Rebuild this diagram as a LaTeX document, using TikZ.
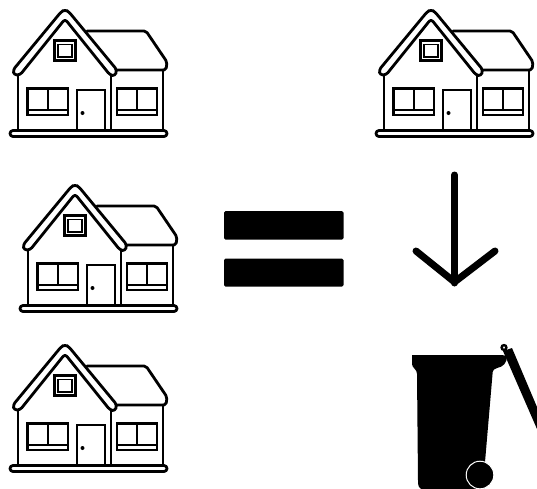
\documentclass[tikz,border=0pt]{standalone}
\tikzset{
  ln/.style={draw=black,line width=2.8pt,line join=round,line cap=round},
  thick ln/.style={draw=black,line width=3.2pt,line join=round,line cap=round},
  house/.pic={
    % right wing roof
    \draw[ln,rounded corners=2pt] (87,31) -- (146,31) -- (167,62) -- (166,70) -- (116,70);
    % walls
    \draw[ln] (18,75) -- (18,130);
    \draw[ln] (111,74) -- (111,130);
    \draw[ln] (163,70) -- (163,130);
    % main roof band
    \draw[ln,rounded corners=3pt,fill=white] (13,70) -- (61,12) -- (65,9.5) -- (69,12) -- (117,70) -- (115,76) -- (110,75) -- (65,19) -- (20,75) -- (14,75) -- cycle;
    % gable window
    \draw[thick ln,line cap=butt,line join=miter] (54.5,40.5) rectangle (75.5,60.5);
    \draw[draw=black,line width=1.5pt] (58,44.5) rectangle (72,57);
    % left window
    \draw[ln,line join=miter] (27.5,88.5) rectangle (68,115);
    \draw[ln,line cap=butt] (48,88) -- (48,110);
    \draw[ln,line cap=butt] (27,110) -- (68,110);
    % door
    \draw[ln,line join=miter] (77,130) -- (77,90) -- (105,90) -- (105,130);
    \fill (82.5,113) circle (2);
    % right window
    \draw[ln,line join=miter] (117,88.5) rectangle (157,115);
    \draw[ln,line cap=butt] (137,88) -- (137,110);
    \draw[ln,line cap=butt] (117,110) -- (157,110);
    % base
    \draw[ln,rounded corners=3pt,fill=white] (10,130.5) rectangle (167,136.5);
  }
}
\begin{document}
\begin{tikzpicture}[x=1pt,y=-1pt]
\useasboundingbox (0,0) rectangle (537,488);
\clip (0,0) rectangle (537,488);
\pic at (0,0) {house};
\pic at (366,0) {house};
\pic at (10,175) {house};
\pic at (0,335) {house};
% equals
\fill[rounded corners=1.5pt] (224,211) rectangle (343.5,239.5);
\fill[rounded corners=1.5pt] (224,258.5) rectangle (343.5,286.5);
% arrow
\draw[line width=7pt,line cap=round,line join=round] (454.5,175) -- (454.5,283);
\draw[line width=7pt,line cap=round,line join=round] (416,251) -- (454.5,282) -- (495,251);
% bin body
\fill (412,355) -- (502,355) -- (507,356) .. controls (507,363) and (503,367) .. (497,368) .. controls (494,369) and (493,370) .. (492.7,372) -- (485,462) -- (484,490) -- (422,490) .. controls (419,488) and (418,486) .. (418,481) -- (417,374) .. controls (417,369) and (412,368) .. (412,364) -- cycle;
% lid
\fill (503,351) -- (512,348) -- (537,407) -- (537,429) -- cycle;
\draw[line width=2.4pt,fill=white] (504,347.5) circle (2.4);
% wheel
\draw[draw=white,line width=1pt,fill=black] (480,475) circle (13.8);
\end{tikzpicture}
\end{document}
